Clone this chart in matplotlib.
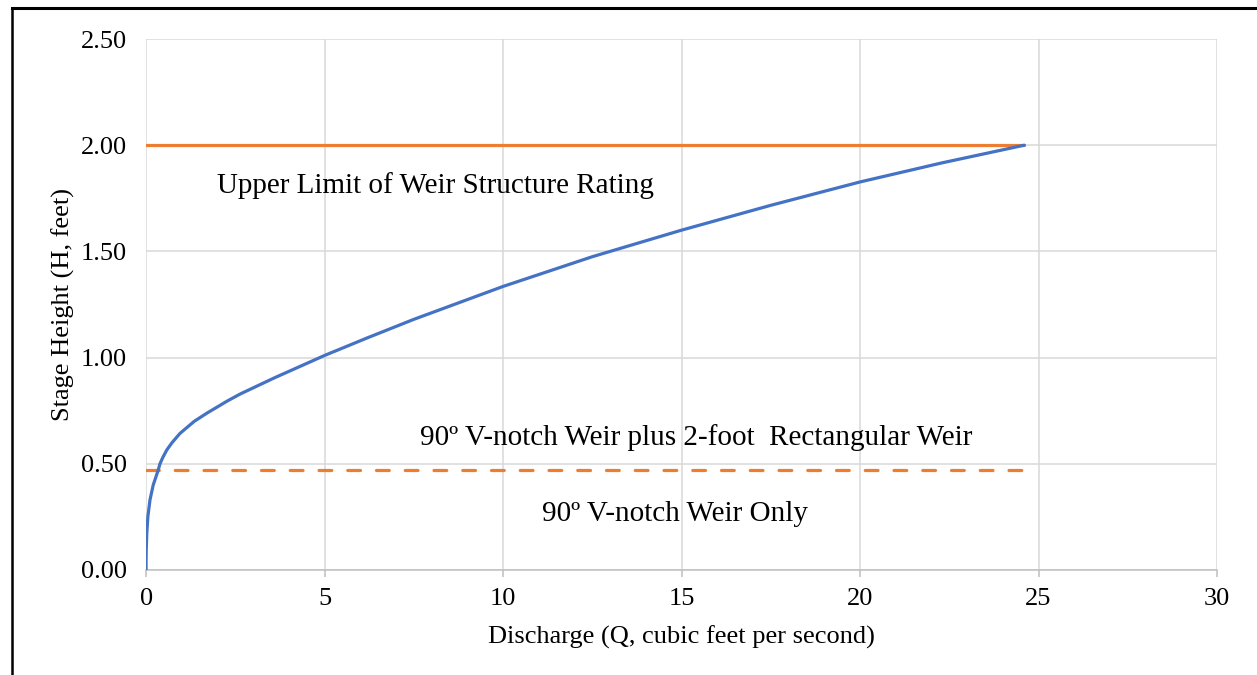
import matplotlib
matplotlib.use('Agg')
import matplotlib.pyplot as plt
from matplotlib.lines import Line2D

# rating curve (discharge Q in cfs, stage H in feet)
discharge_q = [0.0, 0.001, 0.006, 0.02, 0.05, 0.11, 0.20, 0.34, 0.39, 0.47, 0.58, 0.73, 0.95,
               1.35, 1.70, 2.27, 2.63, 3.60, 5.00, 6.20, 7.50, 10.0, 12.5, 15.0, 17.5, 20.0,
               22.3, 24.6]
stage_h = [0.0, 0.05, 0.10, 0.17, 0.25, 0.33, 0.40, 0.47, 0.50, 0.53, 0.565, 0.60, 0.643,
           0.70, 0.738, 0.795, 0.828, 0.905, 1.01, 1.093, 1.18, 1.335, 1.475, 1.60, 1.717,
           1.827, 1.917, 2.00]

# reference lines
upper_limit_q = [0, 24.6]
upper_limit_h = [2.0, 2.0]
vnotch_limit_q = [0, 24.6]
vnotch_limit_h = [0.47, 0.47]

x_ticks = [0, 5, 10, 15, 20, 25, 30]
y_ticks = [0.0, 0.5, 1.0, 1.5, 2.0, 2.5]

plt.rcParams['font.family'] = ['Liberation Serif', 'DejaVu Serif']

fig = plt.figure(figsize=(12.57, 6.75), dpi=100)
ax = fig.add_axes([0.1162, 0.1556, 0.852, 0.7866])

grid_col = '#d9d9d9'
blue = '#4472C4'
orange = '#ED7D31'

ax.plot(upper_limit_q, upper_limit_h, color=orange, lw=2.3, solid_capstyle='round', zorder=3)
ax.plot(vnotch_limit_q, vnotch_limit_h, color=orange, lw=2.3, dashes=(4, 5),
        dash_capstyle='round', zorder=3)
ax.plot(discharge_q, stage_h, color=blue, lw=2.3, solid_capstyle='round',
        solid_joinstyle='round', zorder=4)

ax.set_xlim(0, 30)
ax.set_ylim(0, 2.5)
ax.set_xticks(x_ticks)
ax.set_yticks(y_ticks)
ax.set_yticklabels(['%.2f' % v for v in y_ticks])
ax.grid(True, color=grid_col, lw=1.1)
ax.set_axisbelow(True)
for s in ['top', 'right', 'left']:
    ax.spines[s].set_visible(False)
ax.spines['bottom'].set_color('#bfbfbf')
ax.spines['bottom'].set_linewidth(1.1)
ax.tick_params(axis='x', length=5, width=1.1, color='#bfbfbf', labelsize=19, pad=8)
ax.tick_params(axis='y', length=0, labelsize=19, pad=14)

ax.set_xlabel('Discharge (Q, cubic feet per second)', fontsize=19)
ax.set_ylabel('Stage Height (H, feet)', fontsize=19)
ax.xaxis.set_label_coords(0.5, -0.105)
ax.yaxis.set_label_coords(-0.066, 0.5)

ax.text(8.1, 1.775, 'Upper Limit of Weir Structure Rating', fontsize=21, ha='center',
        va='baseline')
ax.text(15.42, 0.589, '90º V-notch Weir plus 2-foot  Rectangular Weir', fontsize=21,
        ha='center', va='baseline')
ax.text(14.82, 0.231, '90º V-notch Weir Only', fontsize=21, ha='center', va='baseline')

# black frame around the picture (only top and left visible)
fig.add_artist(Line2D([0.0095, 1.0], [0.988, 0.988], color='black', lw=2.2,
                      transform=fig.transFigure))
fig.add_artist(Line2D([0.0095, 0.0095], [0.0, 0.988], color='black', lw=1.8,
                      transform=fig.transFigure))

fig.savefig('out.png', dpi=100)
